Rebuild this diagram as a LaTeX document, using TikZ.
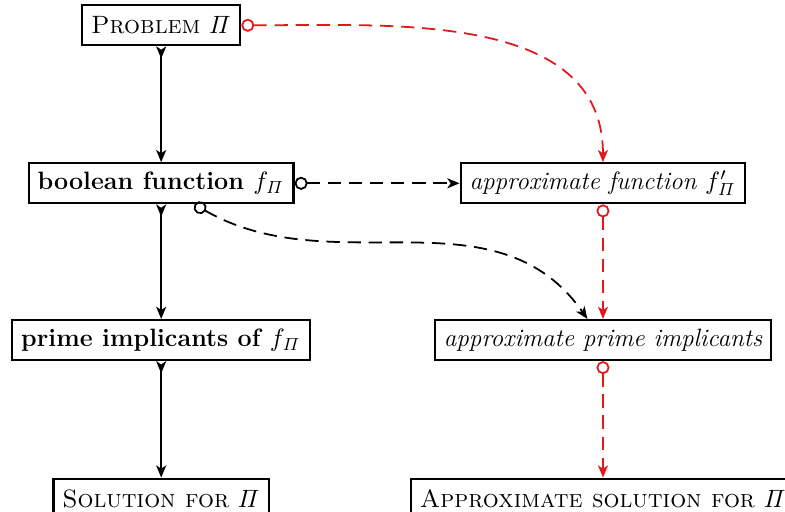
\documentclass[tikz,border=0pt]{standalone}
\usepackage{fix-cm}
\usepackage{tikz}
\usetikzlibrary{arrows, arrows.meta}
\usetikzlibrary{positioning}
\usetikzlibrary{calc}
\definecolor{linkred}{RGB}{225,25,25}
\newcommand{\boxfont}{\fontsize{11.3}{13.6}\selectfont}
\tikzstyle{stepBox} = [rectangle, draw, line width=1pt, inner xsep=4pt, minimum height=18pt, fill=white, font=\boxfont]
\tikzstyle{stepLink} = [line width=0.8pt]
\tikzstyle{redLink} = [line width=0.8pt, linkred, dash pattern=on 6pt off 3.5pt]

\begin{document}
\begin{tikzpicture}[>={Stealth[length=5.5pt, width=4.5pt, inset=1.5pt]}]
	\useasboundingbox (0,0) rectangle (12.42,-8.10);

	\node[stepBox] (Problem) at (2.55,-0.40) {\textsc{Problem} $\mathit{\Pi}$};

	\node[stepBox, font=\boxfont\bfseries] at ([yshift=-2.50cm]Problem) (Boolean) {boolean function $f_{\mathit{\Pi}}$};

	\node[stepBox, font=\boxfont\bfseries] at ([yshift=-2.48cm]Boolean) (Prime) {prime implicants of $f_{\mathit{\Pi}}$};

	\node[stepBox] at ([yshift=-2.51cm]Prime) (Solution) {\textsc{Solution for} $\mathit{\Pi}$};

	\node[stepBox, font=\boxfont\itshape] at ([xshift=6.99cm]Boolean) (ApproxF) {approximate function $f'_{\mathit{\Pi}}$};

	\node[stepBox, font=\boxfont\itshape] at ([xshift=6.99cm]Prime) (ApproxPI) {approximate prime implicants};

	\node[stepBox] at ([xshift=6.99cm]Solution) (ApproxSol) {\textsc{Approximate solution for} $\mathit{\Pi}$};

	% exact route
	\draw[stepLink, >->] (Problem) -- (Boolean);
	\draw[stepLink, >->] (Boolean) -- (Prime);
	\draw[stepLink, >->] (Prime) -- (Solution);

	% approximate route
	\draw[stepLink, dash pattern=on 6pt off 3.5pt, o->] (Boolean.east) -- (ApproxF.west);
	\draw[stepLink, dash pattern=on 6pt off 3.5pt, o->] ([xshift=15pt]Boolean.south) to[out=-30, in=125] ([xshift=-7pt]ApproxPI.north);
	\draw[redLink, o->] (Problem.east) to[out=0, in=90] (ApproxF.north);
	\draw[redLink, o->] (ApproxF) -- (ApproxPI);
	\draw[redLink, o->] (ApproxPI) -- (ApproxSol);
\end{tikzpicture}
\end{document}
